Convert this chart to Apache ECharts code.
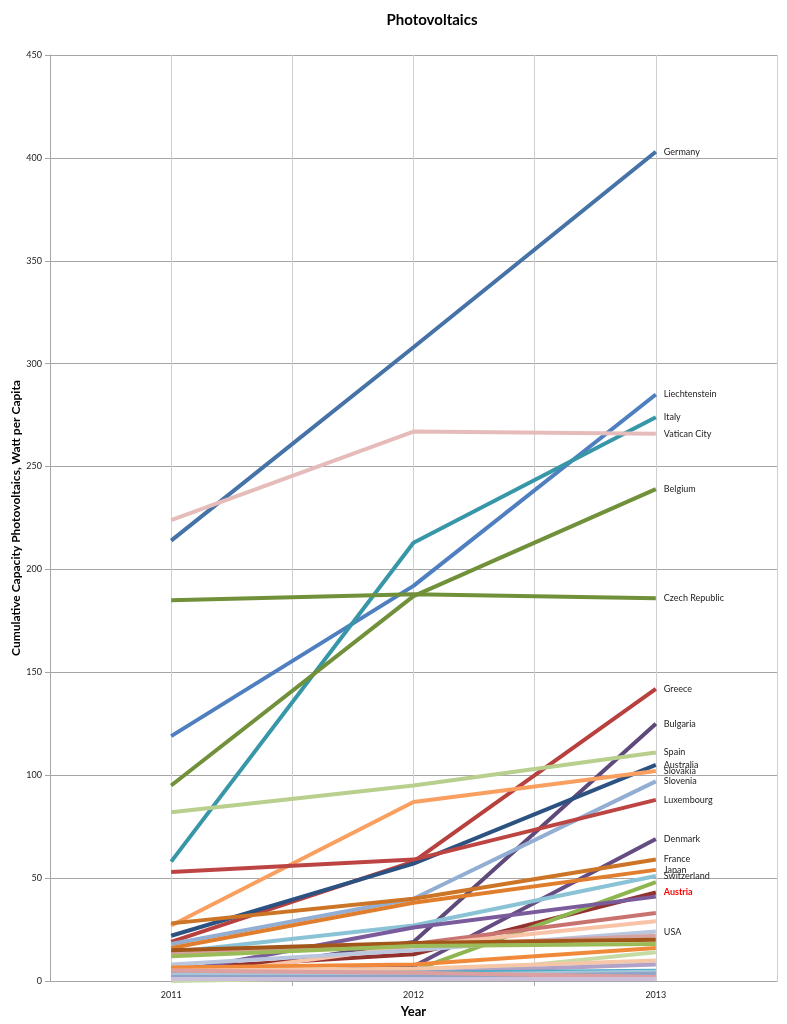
<!DOCTYPE html>
<html>
<head>
<meta charset="utf-8">
<script src="https://cdn.jsdelivr.net/npm/echarts@6/dist/echarts.min.js"></script>
<style>html,body{margin:0;padding:0;background:#fff;}#c{width:787px;height:1024px;}</style>
</head>
<body>
<div id="c"></div>
<script>
const years = [2011, 2012, 2013];
const seriesNames = ['Germany','Liechtenstein','Italy','Vatican City','Belgium','Czech Republic','Greece','Bulgaria','Spain','Australia','Slovakia','Slovenia','Luxembourg','Denmark','France','Japan','Switzerland','Austria','Other A','Other B','Other C','Other D','USA','Other E','Other F','Other G','Other H','Other I','Other J','Other K','Other L','Other M','Other N','Other O','Other P'];
const v2011 = [214,119,58,224,95,185,19,1,82,22,27,18,53,2,28,16,14,6,1,4,13,1.5,8,13.5,15,12,6.5,0,5,3,4,3,2,5,1];
const v2012 = [308,192,213,267,187,188,58,19,95,57,87,40,59,7,40,38,27,13,5,26,18,17,15,17,18.5,17,8,2,6,4,4,3,2,4,1];
const v2013 = [403,285,274,266,239,186,142,125,111,105,102,97,88,69,59,54,51,43,48,41,33,29,24,22,20,18,16,14,10,8,5,4.5,3.5,2,1];
const labelledNames = ['Germany','Liechtenstein','Italy','Vatican City','Belgium','Czech Republic','Greece','Bulgaria','Spain','Australia','Slovakia','Slovenia','Luxembourg','Denmark','France','Japan','Switzerland','Austria','USA'];
const highlightName = 'Austria';
const yTicks = [0,50,100,150,200,250,300,350,400,450];
const gridXValues = [2010.5, 2011, 2011.5, 2012, 2012.5, 2013, 2013.5];
const xTickValues = [2011.5, 2012.5];

const colors = ['#4572A7','#4F7FC0','#3796A8','#E6BCBB','#71903A','#71903A','#B8403E','#5F497A','#B8CF8D','#2C5282','#F9A060','#93AED3','#BC4543','#654C82','#CC7526','#E07E2E','#8BC3D6','#93312F','#8DB550','#7A5B9C','#C87370','#F8C3A6','#B9C6DE','#D6A2A0','#A2561A','#9BBB59','#F08A3A','#C6DBA4','#F6C6A8','#B3A2C7','#4BACC6','#A5C5DA','#8EA4C8','#DDA0A0','#CCC0DA'];
const FONT = 'Lato, "Open Sans", sans-serif';

const series = seriesNames.map((name, i) => {
  const lab = labelledNames.indexOf(name) >= 0;
  const hi = name === highlightName;
  return {
    name: name,
    type: 'line',
    xAxisIndex: 0,
    data: years.map((y, k) => [y, [v2011, v2012, v2013][k][i]]),
    symbol: 'none',
    lineStyle: { width: 4, color: colors[i] },
    itemStyle: { color: colors[i] },
    silent: true,
    z: 2,
    endLabel: {
      show: lab,
      formatter: name,
      distance: 8,
      fontFamily: FONT,
      fontSize: 9,
      fontWeight: hi ? 'bold' : 'normal',
      color: hi ? '#FF0000' : '#222'
    }
  };
});

const chart = echarts.init(document.getElementById('c'), null, { renderer: 'canvas' });
chart.setOption({
  animation: false,
  backgroundColor: '#fff',
  title: {
    text: 'Photovoltaics',
    left: 427, top: 8, textAlign: 'center',
    textStyle: { fontFamily: FONT, fontSize: 15, fontWeight: 'bold', color: '#000' }
  },
  grid: { left: 50, right: 10, top: 55, bottom: 43, containLabel: false, outerBoundsMode: 'none' },
  xAxis: [{
    type: 'value', min: 2010.5, max: 2013.5, interval: 0.5,
    name: 'Year', nameLocation: 'middle', nameGap: 24, nameMoveOverlap: false,
    nameTextStyle: { fontFamily: FONT, fontSize: 13, fontWeight: 'bold', color: '#000' },
    axisLine: { show: true, lineStyle: { color: '#A6A6A6', width: 1 } },
    axisTick: { show: false, customValues: gridXValues },
    axisLabel: { customValues: years, formatter: v => String(v), fontSize: 9, color: '#222', margin: 10, fontFamily: FONT },
    splitLine: { show: true, lineStyle: { color: '#CFCFCF', width: 1 } }
  }, {
    type: 'value', min: 2010.5, max: 2013.5, interval: 0.5, position: 'bottom',
    axisLine: { show: false },
    axisTick: { show: true, length: 5, customValues: xTickValues, lineStyle: { color: '#A6A6A6' } },
    axisLabel: { show: false },
    splitLine: { show: false }
  }],
  yAxis: {
    type: 'value', min: 0, max: 450, interval: 50,
    name: 'Cumulative Capacity Photovoltaics, Watt per Capita', nameLocation: 'middle', nameGap: 28, nameMoveOverlap: false,
    nameTextStyle: { fontFamily: FONT, fontSize: 12, fontWeight: 'bold', color: '#000' },
    axisLine: { show: true, lineStyle: { color: '#A6A6A6', width: 1 } },
    axisTick: { show: true, length: 5, lineStyle: { color: '#A6A6A6' } },
    axisLabel: { fontSize: 9, color: '#222', margin: 8, fontFamily: FONT,
      formatter: v => (yTicks.indexOf(v) >= 0 ? String(v) : '') },
    splitLine: { show: true, lineStyle: { color: '#A6A6A6', width: 1 } }
  },
  series: series
});
</script>
</body>
</html>
